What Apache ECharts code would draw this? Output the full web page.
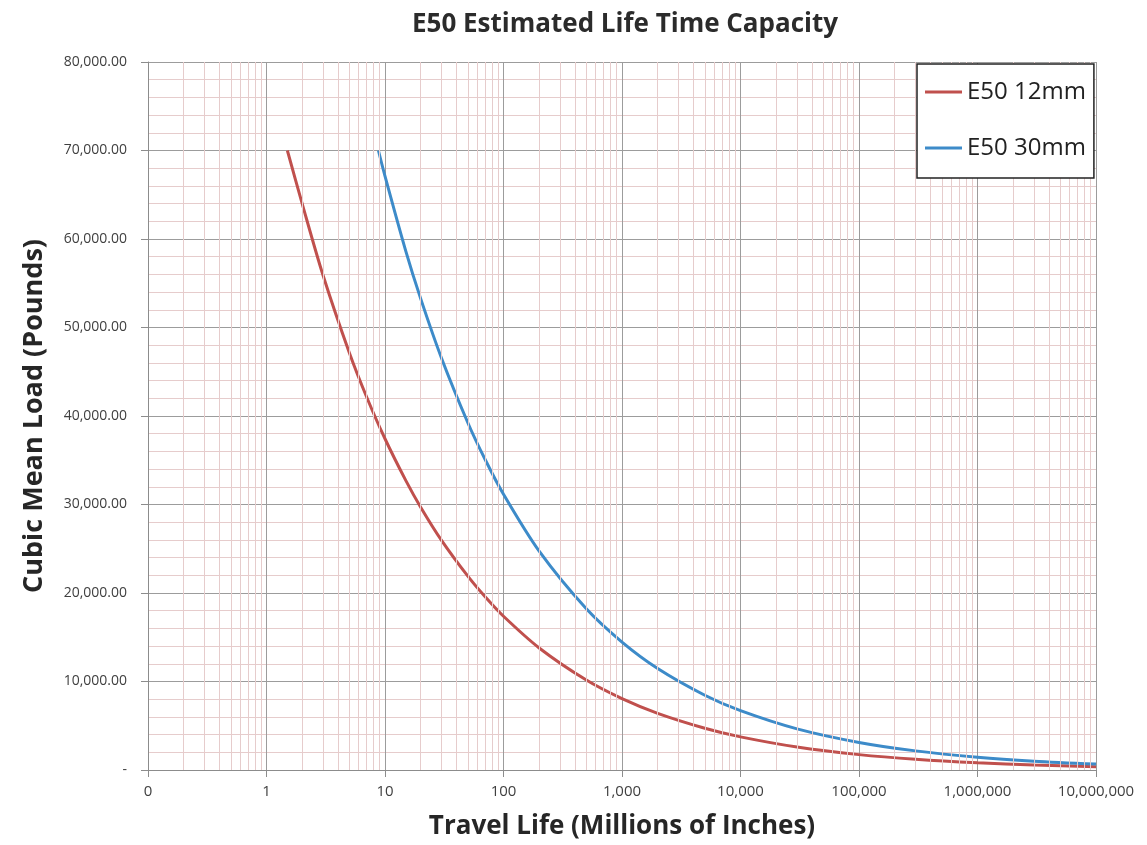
<!DOCTYPE html>
<html>
<head>
<meta charset="utf-8">
<script src="https://cdn.jsdelivr.net/npm/echarts@6/dist/echarts.min.js"></script>
<style>html,body{margin:0;padding:0;background:#fff}#c{width:1147px;height:845px}</style>
</head>
<body>
<div id="c"></div>
<script>
// Travel life (millions of inches) vs cubic mean load (pounds)
const red12Life = [1.5, 2, 3, 5, 7, 10, 15, 20, 30, 50, 70, 100, 200, 500, 1000, 2000, 5000, 10000, 30000, 100000, 300000, 1000000, 3000000, 10000000];
const red12Load = [70000, 64000, 55900, 47150, 42150, 37430, 32700, 29700, 25950, 21900, 19570, 17370, 13790, 10160, 8064, 6400, 4716, 3743, 2595, 1737, 1205, 806, 559, 374];
const blue30Life = [8.8, 10, 15, 20, 30, 50, 70, 100, 200, 500, 1000, 2000, 5000, 10000, 30000, 100000, 300000, 1000000, 3000000, 10000000];
const blue30Load = [70000, 67100, 58600, 53260, 46530, 39240, 35080, 31150, 24720, 18210, 14456, 11470, 8450, 6710, 4650, 3115, 2160, 1446, 1002, 671];
const seriesNames = ['E50 12mm', 'E50 30mm'];
const xDecades = [0.1, 1, 10, 100, 1000, 10000, 100000, 1000000, 10000000];

const pair = (xs, ys) => xs.map((x, i) => [x, ys[i]]);

// minor vertical gridlines at 2..9 within each decade
const minorX = [];
for (let d = 0; d < xDecades.length - 1; d++) {
  for (let k = 2; k <= 9; k++) minorX.push({ xAxis: xDecades[d] * k });
}

const chart = echarts.init(document.getElementById('c'), null, { renderer: 'canvas' });
const FONT = '"Open Sans", "Liberation Sans", sans-serif';
chart.setOption({
  animation: false,
  backgroundColor: '#ffffff',
  title: {
    text: 'E50 Estimated Life Time Capacity',
    left: 407, top: 7,
    textStyle: { fontFamily: FONT, fontWeight: 'bold', fontSize: 26, color: '#2b2b2b' }
  },
  legend: {
    orient: 'vertical',
    left: 917, top: 64, z: 20,
    padding: [16, 8, 18, 8],
    itemWidth: 37, itemHeight: 3,
    itemGap: 32,
    itemStyle: { borderWidth: 0 },
    icon: 'rect',
    borderColor: '#222222', borderWidth: 1.5,
    backgroundColor: '#ffffff',
    textStyle: { fontFamily: FONT, fontSize: 24, color: '#222222', padding: [0, 4, 0, 0] },
    data: seriesNames
  },
  grid: { left: 148, right: 51, top: 62, bottom: 71, containLabel: false },
  xAxis: {
    type: 'log', logBase: 10, min: 0.1, max: 10000000,
    name: 'Travel Life (Millions of Inches)',
    nameLocation: 'middle', nameGap: 44,
    nameTextStyle: { fontFamily: FONT, fontWeight: 'bold', fontSize: 26, color: '#262626' },
    axisLine: { show: true, lineStyle: { color: '#8c8c8c', width: 1 } },
    axisTick: { show: true, length: 7, lineStyle: { color: '#8c8c8c' } },
    axisLabel: {
      fontFamily: FONT, fontSize: 15, color: '#404040', margin: 14,
      formatter: v => v < 1 ? '0' : Math.round(v).toLocaleString('en-US')
    },
    splitLine: { show: true, lineStyle: { color: '#9c9c9c', width: 1 } }
  },
  yAxis: {
    type: 'value', min: 0, max: 80000, interval: 10000,
    name: 'Cubic Mean Load (Pounds)',
    nameLocation: 'middle', nameGap: 100,
    nameTextStyle: { fontFamily: FONT, fontWeight: 'bold', fontSize: 27, color: '#262626' },
    axisLine: { show: true, lineStyle: { color: '#8c8c8c', width: 1 } },
    axisTick: { show: true, length: 7, lineStyle: { color: '#8c8c8c' } },
    axisLabel: {
      fontFamily: FONT, fontSize: 14, color: '#404040', margin: 21,
      formatter: v => v === 0 ? '-' : v.toLocaleString('en-US', { minimumFractionDigits: 2, maximumFractionDigits: 2 })
    },
    splitLine: { show: true, lineStyle: { color: '#9c9c9c', width: 1 } },
    minorTick: { show: false, splitNumber: 5 },
    minorSplitLine: { show: true, lineStyle: { color: '#e6cccc', width: 1 } }
  },
  series: [
    {
      name: 'minor-grid', type: 'line', data: [], z: 1, silent: true,
      markLine: {
        silent: true, symbol: ['none', 'none'], animation: false,
        label: { show: false },
        lineStyle: { color: '#e6cccc', width: 1, type: 'solid' },
        data: minorX
      }
    },
    {
      name: seriesNames[0], type: 'line', data: pair(red12Life, red12Load),
      smooth: 0.3, showSymbol: false, z: 3,
      lineStyle: { color: '#c0504d', width: 3 }, itemStyle: { color: '#c0504d' }
    },
    {
      name: seriesNames[1], type: 'line', data: pair(blue30Life, blue30Load),
      smooth: 0.3, showSymbol: false, z: 3,
      lineStyle: { color: '#3d8bc9', width: 3 }, itemStyle: { color: '#3d8bc9' }
    }
  ]
});
</script>
</body>
</html>
